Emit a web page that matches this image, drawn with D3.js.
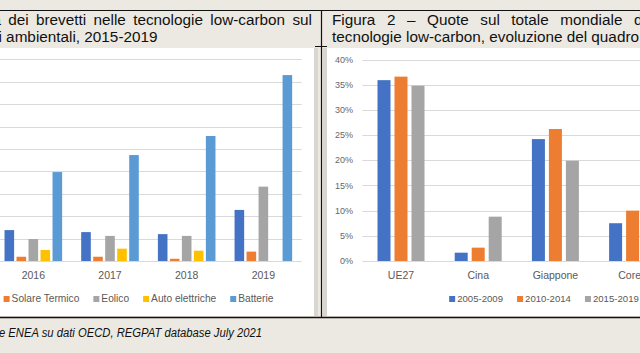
<!DOCTYPE html>
<html>
<head>
<meta charset="utf-8">
<script src="https://cdn.jsdelivr.net/npm/d3@7"></script>
<style>
    body { margin: 0; background: #ECE9E2; overflow: hidden; }
    svg { display: block; font-family: "Liberation Sans", Arial, sans-serif; }
</style>
</head>
<body>
<div id="page"></div>
<script>
// ---- Figura 1: quota brevetti low-carbon sul totale brevetti ambientali ----
let years = ['2015', '2016', '2017', '2018', '2019'];
let techs = ['Fotovoltaico', 'Solare Termico', 'Eolico', 'Auto elettriche', 'Batterie'];
// the 2015 group lies outside the picture, nothing to read there
let fotovoltaico   = [null, 1.38, 1.29, 1.20, 2.28];
let solareTermico  = [null, 0.19, 0.19, 0.10, 0.42];
let eolico         = [null, 0.98, 1.12, 1.12, 3.32];
let autoElettriche = [null, 0.49, 0.55, 0.46, 0];
let batterie       = [null, 3.97, 4.73, 5.58, 8.30];
let leftTicks = [0, 1, 2, 3, 4, 5, 6, 7, 8, 9];

// ---- Figura 2: quote sul totale mondiale ----
let regions = ['UE27', 'Cina', 'Giappone', 'Corea'];
let periods = ['2005-2009', '2010-2014', '2015-2019'];
let q0509 = [35.9, 1.65, 24.2, 7.5];
let q1014 = [36.6, 2.65, 26.2, 10.0];
let q1519 = [34.8, 8.8, 19.9, null];   // Corea grey bar is cut off
let rightTicks = [0, 5, 10, 15, 20, 25, 30, 35, 40];

let leftColors = ['#4472C4', '#ED7D31', '#A5A5A5', '#FFC000', '#5B9BD5'];
let rightColors = ['#4472C4', '#ED7D31', '#A5A5A5'];

class Page {

    constructor() {
        this.width = 640;
        this.height = 353;
        this.svg = d3.select('#page').append('svg')
            .attr('width', this.width)
            .attr('height', this.height);
    }

    drawFrame() {
        let svg = this.svg;
        // white chart areas with their grey edge
        svg.append('rect').attr('x', -10).attr('y', 48).attr('width', 324).attr('height', 268).attr('fill', '#fff');
        svg.append('rect').attr('x', 314).attr('y', 48).attr('width', 4).attr('height', 268).attr('fill', '#D8D6D0');
        svg.append('rect').attr('x', 323).attr('y', 48).attr('width', 4).attr('height', 268).attr('fill', '#D8D6D0');
        svg.append('rect').attr('x', 327).attr('y', 48).attr('width', 320).attr('height', 268).attr('fill', '#fff');

        // table rules
        svg.append('line').attr('x1', 0).attr('x2', 640).attr('y1', 10.5).attr('y2', 10.5)
            .attr('stroke', '#111').attr('stroke-width', 1);
        svg.append('line').attr('x1', 0).attr('x2', 640).attr('y1', 317.5).attr('y2', 317.5)
            .attr('stroke', '#111').attr('stroke-width', 1.5);
        svg.append('line').attr('x1', 321.5).attr('x2', 321.5).attr('y1', 10).attr('y2', 318)
            .attr('stroke', '#111').attr('stroke-width', 1.2);
        svg.append('line').attr('x1', 315).attr('x2', 327).attr('y1', 46.5).attr('y2', 46.5)
            .attr('stroke', '#111').attr('stroke-width', 1);

        // titles
        let t = svg.append('g').attr('fill', '#111').style('font-size', '15.3px');
        t.append('text').attr('x', 312).attr('y', 25).attr('text-anchor', 'end')
            .attr('word-spacing', 3.1)
            .text('Figura 1 – Quota dei brevetti nelle tecnologie low-carbon sul');
        t.append('text').attr('x', 157.5).attr('y', 41.5).attr('text-anchor', 'end')
            .text('totale dei brevetti ambientali, 2015-2019');
        t.append('text').attr('x', 332).attr('y', 25)
            .attr('word-spacing', 7.3)
            .text('Figura 2 – Quote sul totale mondiale dei brevetti nelle');
        t.append('text').attr('x', 332).attr('y', 41.5)
            .text('tecnologie low-carbon, evoluzione del quadro competitivo');

        // source
        svg.append('text')
            .attr('transform', 'translate(262,336.5) scale(0.834,1)')
            .attr('text-anchor', 'end')
            .attr('fill', '#111')
            .style('font-size', '13.5px')
            .style('font-style', 'italic')
            .text('Fonte: elaborazione ENEA su dati OECD, REGPAT database July 2021');
    }

    legend(g, names, colors, cx, size) {
        let items = g.selectAll('g').data(names).enter().append('g');
        items.append('rect').attr('width', 6).attr('height', 6).attr('y', -6)
            .attr('fill', (d, i) => colors[i]);
        items.append('text').attr('x', 8).attr('y', 0)
            .attr('fill', '#595959').style('font-size', size + 'px')
            .text(d => d);
        let x = 0;
        items.each(function () {
            let w = 8 + d3.select(this).select('text').node().getComputedTextLength();
            d3.select(this).attr('transform', `translate(${x},0)`);
            x += w + 14;
        });
        let total = x - 14;
        g.attr('transform', `translate(${cx - total / 2},302)`);
    }

    drawLeft() {
        let svg = this.svg;
        let series = [fotovoltaico, solareTermico, eolico, autoElettriche, batterie];

        let x0 = d3.scaleBand().domain(years).range([-81.7, 301.7]);
        let y = d3.scaleLinear().domain([0, 9]).range([261, 59.4]);
        let x1 = d3.scaleBand().domain(techs).range([-30, 30]).paddingInner(0.2).paddingOuter(0.1);

        svg.append('g').selectAll('line').data(leftTicks).enter().append('line')
            .attr('x1', x0.range()[0]).attr('x2', x0.range()[1])
            .attr('y1', d => Math.round(y(d)) + 0.5).attr('y2', d => Math.round(y(d)) + 0.5)
            .attr('stroke', '#D9D9D9');

        let rows = years.map((yr, i) => ({
            year: yr,
            values: techs.map((t, j) => ({ tech: t, v: series[j][i], c: leftColors[j] }))
        }));

        let groups = svg.append('g').selectAll('g').data(rows).enter().append('g')
            .attr('transform', d => `translate(${x0(d.year) + x0.bandwidth() / 2},0)`);
        groups.selectAll('rect').data(d => d.values.filter(v => v.v !== null)).enter().append('rect')
            .attr('x', d => x1(d.tech))
            .attr('width', x1.bandwidth())
            .attr('y', d => y(d.v))
            .attr('height', d => y(0) - y(d.v))
            .attr('fill', d => d.c);

        svg.append('g').selectAll('text').data(years).enter().append('text')
            .attr('x', d => x0(d) + x0.bandwidth() / 2)
            .attr('y', 278.5)
            .attr('text-anchor', 'middle')
            .attr('fill', '#595959')
            .style('font-size', '10.5px')
            .text(d => d);

        this.legend(svg.append('g'), techs, leftColors, 100, 10.2);
    }

    drawRight() {
        let svg = this.svg;
        let series = [q0509, q1014, q1519];

        let x0 = d3.scaleBand().domain(regions).range([362.4, 362.4 + 77.2 * regions.length]);
        let y = d3.scaleLinear().domain([0, 40]).range([261, 59.5]);
        let x1 = d3.scaleBand().domain(periods).range([-25.5, 25.5]).paddingInner(0.235).paddingOuter(0.118);

        svg.append('g').selectAll('line').data(rightTicks).enter().append('line')
            .attr('x1', x0.range()[0]).attr('x2', 640)
            .attr('y1', d => Math.round(y(d)) + 0.5).attr('y2', d => Math.round(y(d)) + 0.5)
            .attr('stroke', '#D9D9D9');

        svg.append('g').selectAll('text').data(rightTicks).enter().append('text')
            .attr('x', 353)
            .attr('y', d => y(d) + 3.2)
            .attr('text-anchor', 'end')
            .attr('fill', '#666')
            .style('font-size', '9px')
            .text(d => d + '%');

        let rows = regions.map((r, i) => ({
            region: r,
            values: periods.map((p, j) => ({ period: p, v: series[j][i], c: rightColors[j] }))
        }));

        let groups = svg.append('g').selectAll('g').data(rows).enter().append('g')
            .attr('transform', d => `translate(${x0(d.region) + x0.bandwidth() / 2},0)`);
        groups.selectAll('rect').data(d => d.values.filter(v => v.v !== null)).enter().append('rect')
            .attr('x', d => x1(d.period))
            .attr('width', x1.bandwidth())
            .attr('y', d => y(d.v))
            .attr('height', d => y(0) - y(d.v))
            .attr('fill', d => d.c);

        svg.append('g').selectAll('text').data(regions).enter().append('text')
            .attr('x', d => x0(d) + x0.bandwidth() / 2)
            .attr('y', 278.5)
            .attr('text-anchor', 'middle')
            .attr('fill', '#595959')
            .style('font-size', '10.5px')
            .text(d => d);

        this.legend(svg.append('g'), periods, rightColors, 544, 9.6);
    }
}

let page = new Page();
page.drawFrame();
page.drawLeft();
page.drawRight();
</script>
</body>
</html>
